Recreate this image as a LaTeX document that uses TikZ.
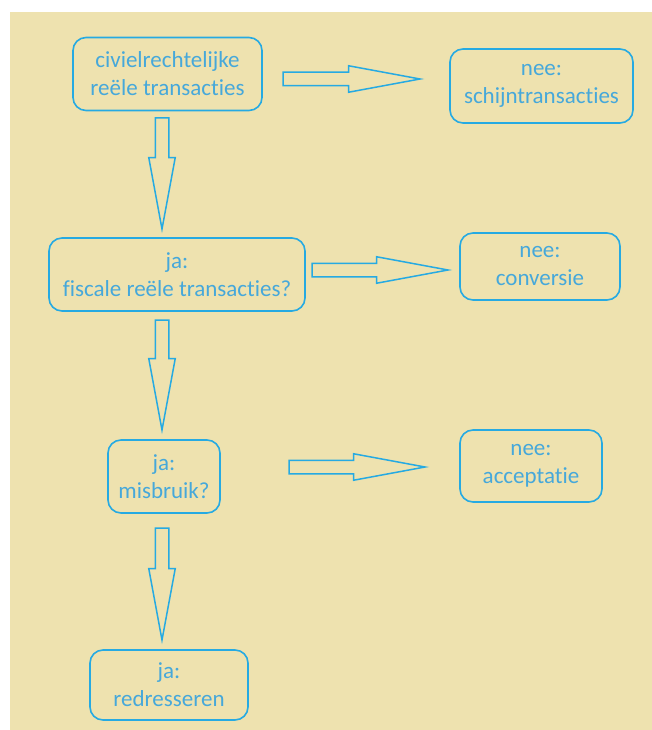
\documentclass[tikz,border=0pt]{standalone}
\usepackage{fontspec}
\setmainfont{Carlito}[Ligatures=NoCommon]
\usetikzlibrary{shapes.arrows,calc}
\definecolor{bgbeige}{RGB}{238,226,175}
\definecolor{lineblue}{RGB}{38,170,226}
\definecolor{textblue}{RGB}{70,168,218}
\tikzset{
  stepbox/.style={draw=lineblue, line width=1.6pt, rounded corners=13pt, text=textblue, align=center, inner sep=0pt, font=\fontsize{23}{28}\selectfont},
  fatarrow/.style={draw=lineblue, line width=1.5pt, single arrow, single arrow head extend=6.5pt, single arrow tip angle=21, inner xsep=0pt, inner ysep=6pt, outer sep=0pt}
}
\newcommand{\blockarrow}[2]{\path let \p1=($(#2)-(#1)$), \n1={veclen(\x1,\y1)} in (#1) -- (#2) node[pos=0, anchor=tail, sloped, fatarrow, minimum height=\n1] {};}

\begin{document}
\begin{tikzpicture}[x=1pt, y=1pt]
        \useasboundingbox (0,0) rectangle (652,-730);
        \fill[bgbeige] (10,-12) rectangle (652,-730);

        \node[stepbox, minimum width=189pt, minimum height=73pt] (civiel) at (167.5,-74) {civielrechtelijke\\reële transacties};
        \node[stepbox, minimum width=183pt, minimum height=74pt] (schijn) at (541.5,-86) {nee:\\schijntransacties};
        \node[stepbox, minimum width=256pt, minimum height=73pt] (fiscaal) at (177,-274.5) {ja:\\fiscale reële transacties?};
        \node[stepbox, minimum width=160pt, minimum height=67pt] (conversie) at (540,-266.5) {nee:\\conversie};
        \node[stepbox, minimum width=112pt, minimum height=73pt] (misbruik) at (164,-476.5) {ja:\\misbruik?};
        \node[stepbox, minimum width=142pt, minimum height=72pt] (acceptatie) at (531,-466) {nee:\\acceptatie};
        \node[stepbox, minimum width=158pt, minimum height=70pt] (redres) at (169,-685) {ja:\\redresseren};

        \coordinate (r1s) at (283,-79); \coordinate (r1e) at (420,-79);
        \coordinate (r2s) at (312,-270); \coordinate (r2e) at (448,-270);
        \coordinate (r3s) at (289,-467); \coordinate (r3e) at (425,-467);
        \coordinate (d1s) at (162,-118); \coordinate (d1e) at (162,-229);
        \coordinate (d2s) at (162,-320); \coordinate (d2e) at (162,-430);
        \coordinate (d3s) at (162,-528); \coordinate (d3e) at (162,-640);

        \blockarrow{r1s}{r1e} \blockarrow{r2s}{r2e} \blockarrow{r3s}{r3e}
        \blockarrow{d1s}{d1e} \blockarrow{d2s}{d2e} \blockarrow{d3s}{d3e}
\end{tikzpicture}
\end{document}
